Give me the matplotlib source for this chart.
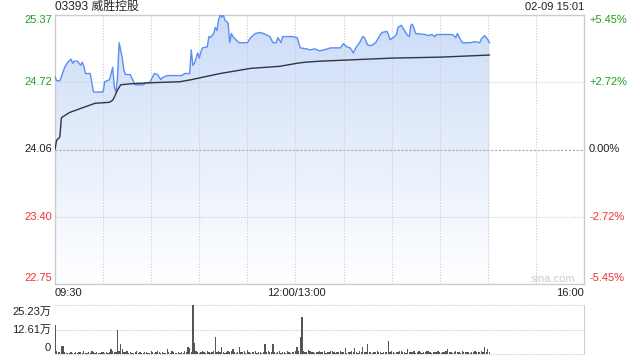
import matplotlib
matplotlib.use('Agg')
import matplotlib.pyplot as plt
import numpy as np
from matplotlib.colors import LinearSegmentedColormap

plt.rcParams['font.family'] = ['Liberation Sans', 'Noto Sans CJK SC', 'DejaVu Sans']

title = '03393 威胜控股'
stamp = '02-09 15:01'
prev_close = 24.06
price_ticks = [25.37, 24.72, 24.06, 23.40, 22.75]
pct_labels = ['+5.45%', '+2.72%', '0.00%', '-2.72%', '-5.45%']
time_labels = ['09:30', '12:00/13:00', '16:00']
vol_ticks = [25.23, 12.61, 0]
vol_labels = ['25.23万', '12.61万', '0']

# trading minutes since 09:30 (lunch break removed; 13:00 = 150)
price_min = [0, 1, 3, 4, 6, 8, 10, 11, 12, 14, 16, 17, 18, 19, 22, 24, 30, 31, 34, 36,
             37, 38, 39, 40, 42, 43, 44, 47, 49, 50, 55, 57, 59, 61, 62, 64, 66, 67, 70, 79,
             81, 84, 85, 86, 87, 89, 90, 91, 92, 95, 96, 97, 99, 100, 101, 102, 103, 104, 105, 106,
             108, 109, 110, 111, 114, 115, 120, 122, 125, 128, 130, 134, 136, 138, 139, 141, 142, 145, 148, 151,
             153, 157, 159, 162, 165, 170, 172, 176, 178, 180, 182, 184, 185, 186, 188, 190, 192, 193, 195, 197,
             200, 203, 204, 207, 208, 209, 211, 213, 214, 216, 218, 220, 221, 222, 223, 225, 231, 233, 235, 237,
             238, 240, 248, 250, 251, 254, 259, 262, 265, 266, 268, 270, 271]
price_val = [24.77, 24.73, 24.73, 24.77, 24.86, 24.91, 24.94, 24.90, 24.92, 24.92, 24.88, 24.91, 24.87, 24.80, 24.80, 24.62, 24.62, 24.72, 24.74, 24.86,
             24.67, 24.62, 24.76, 25.10, 24.95, 24.83, 24.79, 24.79, 24.72, 24.69, 24.69, 24.71, 24.71, 24.77, 24.80, 24.79, 24.74, 24.76, 24.78, 24.78,
             24.80, 24.80, 25.03, 24.88, 24.90, 25.00, 24.95, 25.01, 25.05, 25.06, 25.16, 25.15, 25.19, 25.25, 25.22, 25.32, 25.37, 25.35, 25.37, 25.32,
             25.29, 25.10, 25.19, 25.16, 25.11, 25.10, 25.10, 25.15, 25.19, 25.20, 25.19, 25.16, 25.10, 25.10, 25.15, 25.10, 25.16, 25.16, 25.16, 25.15,
             25.05, 25.04, 25.03, 25.04, 25.02, 25.04, 25.05, 25.05, 25.05, 25.09, 25.06, 25.05, 25.03, 25.00, 25.06, 25.10, 25.16, 25.15, 25.08, 25.07,
             25.10, 25.18, 25.20, 25.21, 25.18, 25.13, 25.15, 25.18, 25.25, 25.27, 25.22, 25.17, 25.16, 25.27, 25.28, 25.19, 25.18, 25.17, 25.18, 25.16,
             25.18, 25.18, 25.18, 25.15, 25.19, 25.10, 25.10, 25.11, 25.10, 25.14, 25.17, 25.13, 25.10]

avg_min = [0, 1, 3, 4, 9, 16, 25, 34, 36, 37, 39, 41, 47, 59, 78, 85, 100, 103, 122, 140,
           151, 156, 165, 210, 241, 271]
avg_val = [24.06, 24.15, 24.18, 24.37, 24.42, 24.46, 24.51, 24.52, 24.54, 24.57, 24.64, 24.69, 24.70, 24.71, 24.72, 24.74, 24.79, 24.80, 24.85, 24.87,
           24.90, 24.91, 24.92, 24.95, 24.96, 24.98]

# volume per minute (万 shares)
volume = [15.1, 1.5, 0.8, 1.2, 4.0, 4.0, 0.9, 0.6, 0.7, 0.5,
          0.8, 0.6, 0.7, 0.9, 0.5, 0.8, 1.1, 0.6, 1.5, 0.7,
          0.6, 0.9, 0.5, 1.4, 0.8, 0.6, 0.9, 0.7, 0.5, 1.0,
          0.8, 0.6, 0.9, 0.7, 0.8, 2.5, 1.6, 0.9, 1.2, 12.6,
          1.8, 5.0, 2.5, 1.2, 0.8, 1.5, 0.6, 0.9, 0.7, 0.5,
          0.8, 1.4, 0.6, 0.9, 0.7, 0.6, 0.8, 1.2, 0.5, 0.7,
          1.3, 0.9, 0.6, 1.1, 1.6, 0.8, 0.5, 0.9, 0.7, 0.6,
          2.8, 0.9, 0.6, 1.5, 0.8, 0.5, 0.7, 0.9, 0.6, 1.0,
          0.7, 1.4, 0.8, 3.5, 3.2, 1.2, 25.23, 5.5, 1.6, 0.9,
          0.7, 1.1, 1.8, 0.8, 0.6, 1.7, 0.9, 0.7, 1.0, 1.3,
          8.6, 1.2, 1.4, 0.8, 3.5, 1.1, 0.7, 0.9, 1.6, 0.8,
          1.3, 2.5, 0.9, 0.7, 1.2, 3.5, 1.0, 0.8, 1.4, 0.6,
          2.2, 0.9, 0.7, 1.1, 0.8, 1.5, 0.6, 0.9, 1.0, 0.7,
          1.2, 5.0, 0.9, 1.4, 0.8, 1.1, 5.0, 1.2, 0.7, 0.9,
          1.8, 0.6, 0.8, 1.0, 0.7, 1.3, 0.9, 0.6, 1.1, 0.8,
          1.4, 3.5, 1.5, 8.6, 19.2, 1.8, 0.9, 1.1, 2.0, 1.3,
          0.8, 1.0, 0.7, 1.2, 0.9, 1.6, 0.8, 1.1, 1.8, 0.7,
          1.0, 0.8, 1.3, 1.7, 0.9, 0.7, 1.1, 0.8, 1.6, 1.2,
          0.9, 3.2, 0.7, 1.1, 0.8, 1.3, 0.9, 3.3, 1.0, 0.7,
          1.5, 0.8, 3.6, 1.1, 0.9, 5.0, 0.8, 1.2, 0.7, 1.0,
          0.9, 1.3, 0.8, 1.1, 0.7, 1.2, 0.9, 1.0, 6.5, 0.8,
          1.5, 1.2, 0.7, 0.9, 1.1, 1.3, 1.6, 0.8, 1.0, 0.7,
          2.8, 0.9, 1.1, 0.8, 1.3, 0.7, 1.0, 1.5, 0.9, 0.7,
          1.1, 0.8, 1.4, 1.6, 0.9, 0.7, 1.2, 0.8, 1.0, 1.6,
          0.9, 0.7, 1.1, 0.8, 1.3, 2.6, 0.9, 1.0, 0.7, 1.2,
          1.8, 0.8, 1.1, 0.7, 1.3, 0.9, 1.0, 0.8, 1.2, 0.7,
          1.1, 0.9, 1.4, 0.8, 1.0, 1.0, 1.3, 0.9, 3.5, 1.1,
          2.4, 1.0]

GREEN = '#1f9f1f'
RED = '#f03030'
GRID = '#cccccc'

W, H = 640, 360
fig = plt.figure(figsize=(6.4, 3.6), dpi=100)
L, R, T, B = 55, 584, 15, 284
ax = fig.add_axes([L / W, 1 - B / H, (R - L) / W, (B - T) / H])
VT, VB = 305, 354
axv = fig.add_axes([L / W, 1 - VB / H, (R - L) / W, (VB - VT) / H])

ymin, ymax = price_ticks[-1], price_ticks[0]

# gradient fill under price line
poly = ax.fill_between(price_min, price_val, ymin, color='none', lw=0)
grad = np.linspace(0, 1, 256).reshape(-1, 1)
cmap = LinearSegmentedColormap.from_list('g', ['#ffffff', '#e6eefc', '#ccdcf7'])
im = ax.imshow(grad, extent=(0, 330, ymin, ymax), origin='lower', aspect='auto',
               cmap=cmap, zorder=1, interpolation='bilinear')
im.set_clip_path(poly.get_paths()[0], transform=ax.transData)

# grid
for m in range(30, 330, 30):
    ax.axvline(m, color=GRID, lw=0.8, ls=(0, (1, 1.5)), zorder=2)
for v in price_ticks[1:-1]:
    if v == prev_close:
        ax.axhline(v, color='#aaaaaa', lw=0.8, ls=(0, (2, 1.5)), zorder=2)
    else:
        ax.axhline(v, color=GRID, lw=0.8, ls=(0, (1, 1.5)), zorder=2)

ax.plot(price_min, price_val, color='#5b8ef2', lw=1.0, zorder=4)
ax.plot(avg_min, avg_val, color='#2e3646', lw=1.0, zorder=5)

ax.set_xlim(0, 330)
ax.set_ylim(ymin, ymax)
ax.set_xticks([])
ax.set_yticks([])
for s in ax.spines.values():
    s.set_color(GRID)
    s.set_linewidth(1.0)

fs = 8


def fx(px):
    return px / W


def fy(py):
    return 1 - py / H


# left / right price labels
label_y = [20, 82, 149, 217, 278]
for i, (v, pl) in enumerate(zip(price_ticks, pct_labels)):
    if v > prev_close:
        c = GREEN
    elif v < prev_close:
        c = RED
    else:
        c = '#222222'
    fig.text(fx(52), fy(label_y[i]), f'{v:.2f}', ha='right', va='center', color=c, fontsize=fs)
    fig.text(fx(589), fy(label_y[i]), pl, ha='left', va='center', color=c, fontsize=fs)

fig.text(fx(55), fy(7), title, ha='left', va='center', color='#222222', fontsize=8.6)
fig.text(fx(584), fy(7), stamp, ha='right', va='center', color='#222222', fontsize=fs)

fig.text(fx(55), fy(293), time_labels[0], ha='left', va='center', color='#222222', fontsize=fs)
fig.text(fx(296), fy(293), time_labels[1], ha='center', va='center', color='#222222', fontsize=fs)
fig.text(fx(584), fy(293), time_labels[2], ha='right', va='center', color='#222222', fontsize=fs)

fig.text(fx(553), fy(279), 'sina.com', ha='center', va='center', color='#cccccc', fontsize=fs)

# volume panel
axv.bar(range(len(volume)), volume, width=0.8, color='#555555', zorder=3)
axv.set_xlim(0, 330)
axv.set_ylim(0, vol_ticks[0])
axv.set_xticks([])
axv.set_yticks([])
for k in ['top', 'left', 'bottom']:
    axv.spines[k].set_visible(False)
axv.spines['right'].set_color(GRID)
for v in vol_ticks:
    axv.axhline(v, color=GRID, lw=0.8, ls=(0, (1, 1)), zorder=1, clip_on=False)

vol_label_y = [312, 330, 348]
for v, lab, py in zip(vol_ticks, vol_labels, vol_label_y):
    fig.text(fx(51), fy(py), lab, ha='right', va='center', color='#222222', fontsize=fs)

fig.savefig('out.png', dpi=100)
